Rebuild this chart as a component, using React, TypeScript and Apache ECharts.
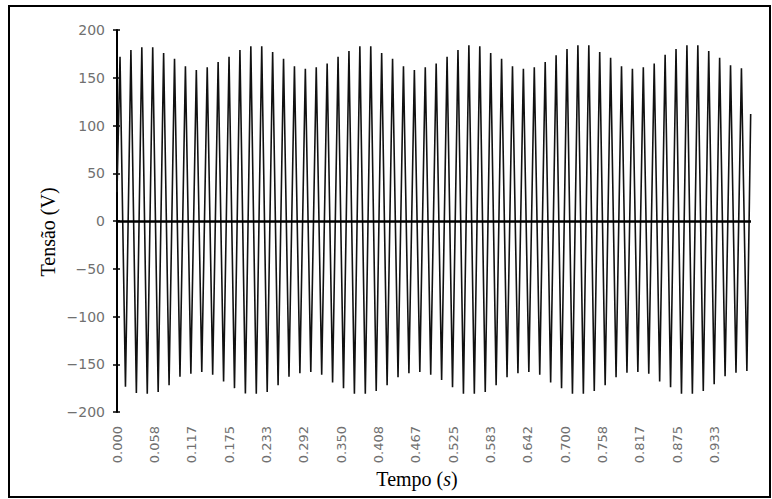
import React, { useEffect, useRef } from "react";
import * as echarts from "echarts";

// Positive peaks (V), read per cycle from the picture
const POS_PEAKS = [
  172, 179, 182, 182, 176, 170, 162, 158, 161, 166.5,
  172, 179, 183, 183, 177, 170, 162, 159.5, 161, 165,
  172, 178, 183, 183, 176, 170, 162, 158, 161,
  165, 172, 179, 184, 183, 176, 170, 162, 159.5, 161,
  166.5, 173.5, 180, 184, 184, 177, 171, 162, 159.5, 161,
  165, 174, 180, 184, 184, 178, 171, 163, 160,
];
// Negative peaks (V), read per cycle from the picture
const NEG_PEAKS = [
  -173.5, -180, -181, -179, -172, -163, -160, -158, -161, -168,
  -175, -180.5, -181, -179, -172, -163, -159.5, -158, -161, -169,
  -175, -181, -181, -178, -172, -163.5, -159.5, -158, -161,
  -166.5, -174, -181, -181, -179, -172, -163.5, -159.5, -158, -161,
  -169, -175, -181, -181, -178, -172, -163.5, -159, -158, -160,
  -168, -174, -181, -181, -178, -171, -162.5, -159, -157,
];
const START_VALUE = 30; // V at t = 0
const END_TIME = 0.9895; // s
const END_VALUE = 112; // V at the last sample
const FIRST_PEAK_TIME = 0.0047; // s
const HALF_PERIOD = 0.008512; // s, time between a peak and the next trough

const Y_TICK_LABELS = ["\u2212200", "\u2212150", "\u2212100", "\u221250", "0", "50", "100", "150", "200"];
const X_TICK_LABELS = [
  "0.000", "0.058", "0.117", "0.175", "0.233", "0.292", "0.350", "0.408", "0.467",
  "0.525", "0.583", "0.642", "0.700", "0.758", "0.817", "0.875", "0.933",
];
const X_INTERVAL = 7 / 120;

export default function App() {
  const ref = useRef<HTMLDivElement>(null);
  useEffect(() => {
    if (!ref.current) return;
    const chart = echarts.init(ref.current, null, { renderer: "svg" });
    const data: number[][] = [[0, START_VALUE]];
    for (let i = 0; i < POS_PEAKS.length; i++) {
      data.push([FIRST_PEAK_TIME + 2 * i * HALF_PERIOD, POS_PEAKS[i]]);
      data.push([FIRST_PEAK_TIME + (2 * i + 1) * HALF_PERIOD, NEG_PEAKS[i]]);
    }
    data.push([END_TIME, END_VALUE]);

    const labelColor = "#707070";
    chart.setOption({
      animation: false,
      backgroundColor: "#ffffff",
      grid: { left: 117, top: 30, height: 382, right: 21, containLabel: false },
      xAxis: {
        type: "value",
        min: 0,
        max: 0.99,
        interval: X_INTERVAL,
        axisLine: { show: false },
        axisTick: { show: false },
        splitLine: { show: false },
        axisLabel: {
          rotate: 90,
          margin: 14,
          color: labelColor,
          fontFamily: "DejaVu Sans",
          fontSize: 13,
          showMaxLabel: false,
          formatter: (v: number) => {
            const k = Math.round(v / X_INTERVAL);
            if (Math.abs(k * X_INTERVAL - v) > 1e-6) return "";
            return X_TICK_LABELS[k] ?? "";
          },
        },
      },
      yAxis: [
        {
          type: "value",
          min: -200,
          max: 200,
          interval: 50,
          position: "left",
          axisLine: { show: true, onZero: false, lineStyle: { color: "#000", width: 2 } },
          axisTick: { show: true, length: 4, lineStyle: { color: "#000", width: 1.5 } },
          splitLine: { show: false },
          axisLabel: {
            margin: 12,
            color: labelColor,
            fontFamily: "DejaVu Sans",
            fontSize: 14,
            formatter: (v: number) => Y_TICK_LABELS[Math.round((v + 200) / 50)] ?? "",
          },
        },
        {
          type: "value",
          min: -200,
          max: 200,
          interval: 50,
          position: "left",
          offset: 0,
          axisLine: { show: false },
          axisTick: { show: true, inside: true, length: 3, lineStyle: { color: "#000", width: 1.5 } },
          splitLine: { show: false },
          axisLabel: { show: false },
        },
      ],
      series: [
        {
          type: "line",
          data,
          showSymbol: false,
          symbol: "none",
          lineStyle: { color: "#111", width: 1.6 },
          markLine: {
            silent: true,
            symbol: "none",
            label: { show: false },
            lineStyle: { color: "#000", width: 2.5, type: "solid" },
            data: [{ yAxis: 0 }],
          },
        },
      ],
      graphic: [
        {
          type: "rect",
          shape: { x: 9, y: 6, width: 761, height: 491 },
          style: { fill: "none", stroke: "#000", lineWidth: 2 },
          silent: true,
        },
        {
          type: "text",
          x: 48,
          y: 232,
          rotation: Math.PI / 2,
          style: {
            text: "Tensão (V)",
            fontFamily: "Liberation Serif",
            fontSize: 20,
            fill: "#000",
            align: "center",
            verticalAlign: "middle",
          },
        },
        {
          type: "text",
          x: 417,
          y: 479,
          style: {
            text: "{a|Tempo (}{b|s}{a|)}",
            align: "center",
            verticalAlign: "middle",
            rich: {
              a: { fontFamily: "Liberation Serif", fontSize: 20, fill: "#000" },
              b: { fontFamily: "Liberation Serif", fontSize: 20, fontStyle: "italic", fill: "#000" },
            },
          },
        },
      ],
    });
    return () => chart.dispose();
  }, []);
  return (
    <div
      ref={ref}
      style={{ position: "absolute", left: 0, top: 0, width: 772, height: 499, background: "#fff" }}
    />
  );
}
